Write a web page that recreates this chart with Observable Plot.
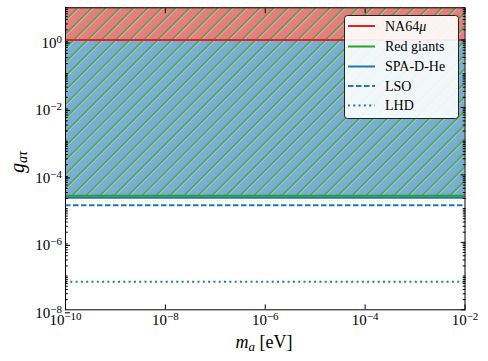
<!DOCTYPE html>
<html><head><meta charset="utf-8">
<script src="https://cdn.jsdelivr.net/npm/d3@7"></script>
<script src="https://cdn.jsdelivr.net/npm/@observablehq/plot@0.6"></script>
<style>body{margin:0;background:#fff} svg text, svg tspan{font-family:"Liberation Serif","DejaVu Serif","Times New Roman",serif !important}</style>
</head><body><div id="chart"></div>
<script>
// ---- data ----
const names = ["NA64μ", "Red giants", "SPA-D-He", "LSO", "LHD"];
const bounds = [1, 2.4e-5, 2.1e-5, 1.25e-5, 6.8e-8];
const colors = ["#d62728", "#2ca02c", "#1f77b4", "#1f77b4", "#1f77b4"];
const dashes = [null, null, null, "5.5,2.5", "2,3.3"];
const xDomain = [1e-10, 1e-2];
const yDomain = [1e-8, 9];
const xTicks = [1e-10, 1e-8, 1e-6, 1e-4, 1e-2];
const yTicks = [1e-8, 1e-6, 1e-4, 1e-2, 1];
const yMinor = [];
for (let e = -8; e <= 0; e++) for (let m = 1; m <= 9; m++) {
  const v = m * Math.pow(10, e);
  if (v > yDomain[1]) continue;
  if (m === 1 && e % 2 === 0) continue;
  yMinor.push(v);
}

const fmt = d => "10^" + Math.round(Math.log10(d));
const blank = () => "";
const FONT = "'Liberation Serif', 'DejaVu Serif', serif";

const regions = [
  {name: "SPA-D-He", y1: bounds[2], y2: bounds[0], fill: "rgba(31,119,180,0.6)"},
  {name: "NA64μ", y1: bounds[0], y2: yDomain[1], fill: "rgba(214,39,40,0.6)"},
  {name: "Red giants", y1: bounds[1], y2: yDomain[1], fill: "url(#rgHatch)"}
];

const lineOrder = [2, 1, 0, 3, 4];

const chart = Plot.plot({
  width: 488, height: 361,
  marginLeft: 65, marginRight: 23.5, marginTop: 7.3, marginBottom: 51.7,
  style: {fontFamily: FONT, fontSize: "15px", background: "white", color: "black"},
  x: {type: "log", domain: xDomain},
  y: {type: "log", domain: yDomain},
  marks: [
    ...regions.map(r => Plot.rect([r], {x1: () => xDomain[0], x2: () => xDomain[1], y1: "y1", y2: "y2", fill: r.fill})),
    ...lineOrder.map(i => Plot.ruleY([bounds[i]], {stroke: colors[i], strokeWidth: 2, strokeDasharray: dashes[i]})),
    Plot.frame({stroke: "black", strokeWidth: 1}),
    Plot.axisX(xTicks, {anchor: "bottom", tickSize: -4.9, tickPadding: 9.5, tickFormat: fmt, fontSize: 15, label: null}),
    Plot.axisX(xTicks, {anchor: "top", tickSize: -4.9, tickFormat: blank, label: null}),
    Plot.axisY(yTicks, {anchor: "left", tickSize: -4.9, tickPadding: 8.5, tickFormat: fmt, fontSize: 15, label: null, dy: 3}),
    Plot.axisY(yMinor, {anchor: "left", tickSize: -2.8, tickFormat: blank, label: null}),
    Plot.axisY(yTicks, {anchor: "right", tickSize: -4.9, tickFormat: blank, label: null}),
    Plot.axisY(yMinor, {anchor: "right", tickSize: -2.8, tickFormat: blank, label: null})
  ]
});

const svg = d3.select(chart);
// hatch pattern
const defs = svg.insert("defs", ":first-child");
const pat = defs.append("pattern").attr("id", "rgHatch").attr("patternUnits", "userSpaceOnUse")
  .attr("width", 9.9).attr("height", 9.9).attr("patternTransform", "rotate(45)");
pat.append("line").attr("x1", 2.3).attr("x2", 2.3).attr("y1", -1).attr("y2", 11)
  .attr("stroke", "#c4e6b2").attr("stroke-opacity", 0.8).attr("stroke-width", 1);
pat.append("line").attr("x1", 1.2).attr("x2", 1.2).attr("y1", -1).attr("y2", 11)
  .attr("stroke", "#2ca02c").attr("stroke-width", 1.1);

// superscript tick labels
svg.selectAll('g[aria-label$="tick label"] text').each(function () {
  const s = this.textContent;
  if (!s.includes("^")) return;
  const [b, e] = s.split("^");
  const t = d3.select(this);
  t.text(null);
  t.append("tspan").text(b);
  t.append("tspan").attr("dy", "-0.45em").attr("font-size", "11px").text(e.replace("-", "\u2212"));
});

// axis labels
const xl = svg.append("text").attr("x", 264).attr("y", 348).attr("text-anchor", "middle")
  .attr("font-family", FONT).attr("font-size", 18);
xl.append("tspan").attr("font-style", "italic").text("m");
xl.append("tspan").attr("font-style", "italic").attr("font-size", 13).attr("dy", 3).text("a");
xl.append("tspan").attr("dy", -3).text(" [eV]");

const yl = svg.append("text").attr("transform", "translate(24,162) rotate(-90)").attr("text-anchor", "middle")
  .attr("font-family", FONT).attr("font-size", 20);
yl.append("tspan").attr("font-style", "italic").text("g");
yl.append("tspan").attr("font-style", "italic").attr("font-size", 14).attr("dy", 3).text("aτ");

// legend
const lg = svg.append("g").attr("font-family", FONT).attr("font-size", 14).attr("text-anchor", "start");
lg.append("rect").attr("x", 344.5).attr("y", 15.5).attr("width", 114).attr("height", 103).attr("rx", 3)
  .attr("fill", "white").attr("fill-opacity", 0.9).attr("stroke", "#222").attr("stroke-width", 1);
const rowY = [26, 46.5, 66.5, 86, 105.5];
names.forEach((n, i) => {
  lg.append("line").attr("x1", 348).attr("x2", 375).attr("y1", rowY[i]).attr("y2", rowY[i])
    .attr("stroke", colors[i]).attr("stroke-width", 2).attr("stroke-dasharray", dashes[i]);
  const t = lg.append("text").attr("x", 385).attr("y", rowY[i] + 4.5).attr("text-anchor", "start");
  if (n.endsWith("μ")) {
    t.append("tspan").text(n.slice(0, -1));
    t.append("tspan").attr("font-style", "italic").text("μ");
  } else t.text(n);
});

document.getElementById("chart").appendChild(chart);
</script>
</body></html>
